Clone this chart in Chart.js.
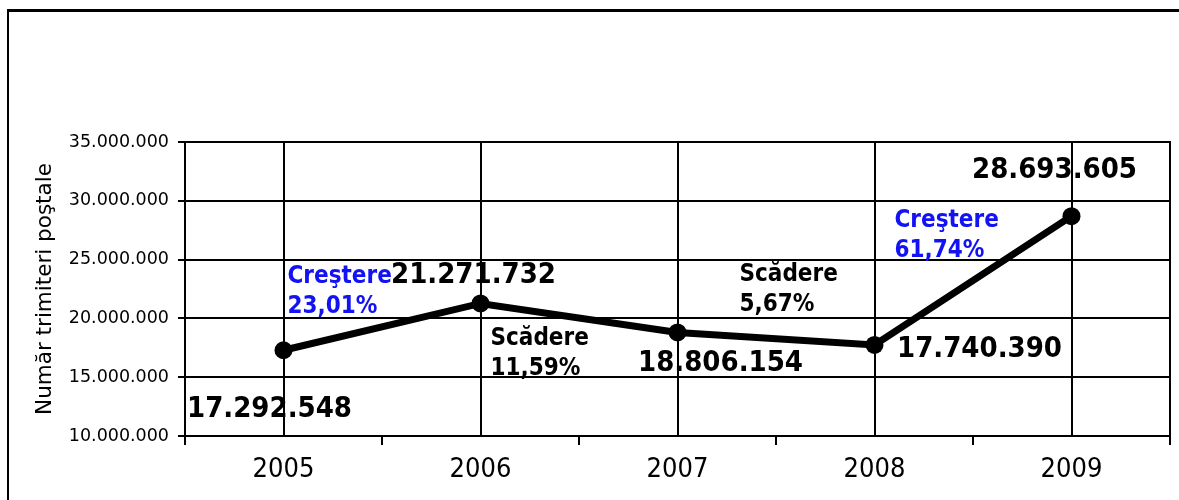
<!DOCTYPE html>
<html>
<head>
<meta charset="utf-8">
<script src="https://cdn.jsdelivr.net/npm/chart.js@4.4.1/dist/chart.umd.min.js"></script>
<style>
  html, body { margin: 0; padding: 0; background: #fff; overflow: hidden; }
  #wrap { position: relative; width: 1179px; height: 500px; }
  #frame { position: absolute; left: 7px; top: 9px; width: 1300px; height: 600px;
           border-top: 3px solid #000; border-left: 2px solid #000; }
  canvas { position: absolute; left: 0; top: 0; }
</style>
</head>
<body>
<div id="wrap">
  <div id="frame"></div>
  <canvas id="c" width="1179" height="500"></canvas>
</div>
<script>
// ---- data ----
const categories = ['2005', '2006', '2007', '2008', '2009'];
const values = [17292548, 21271732, 18806154, 17740390, 28693605];
const yMin = 10000000;
const yMax = 35000000;
const yStep = 5000000;
const yTitle = 'Număr trimiteri poştale';
const changeWords = ['Creştere', 'Scădere', 'Scădere', 'Creştere'];
const changePercents = ['23,01%', '11,59%', '5,67%', '61,74%'];
const changeIncrease = [true, false, false, true];

// ---- placement (pixels relative to data points) ----
const valueLabelOffsets = [[-14, 67], [-7, -20], [43, 39], [105, 12], [-17, -38]];
const changeAnchors = [0, 1, 2, 3];
const changeOffsets = [[4, -67], [10, 42], [62, -51], [20, -118]];

function fmt(v) {
  return String(Math.round(v)).replace(/\B(?=(\d{3})+(?!\d))/g, '.');
}

const labelPlugin = {
  id: 'labels',
  afterDatasetsDraw(chart) {
    const ctx = chart.ctx;
    const xs = chart.scales.x, ys = chart.scales.y;
    ctx.save();
    ctx.textBaseline = 'alphabetic';
    ctx.font = "bold 29px 'DejaVu Sans Condensed', 'DejaVu Sans'";
    ctx.fillStyle = '#000';
    ctx.textAlign = 'center';
    values.forEach((v, i) => {
      const px = xs.getPixelForValue(i), py = ys.getPixelForValue(v);
      ctx.fillText(fmt(v), px + valueLabelOffsets[i][0], py + valueLabelOffsets[i][1]);
    });
    ctx.textAlign = 'left';
    ctx.font = "bold 24px 'DejaVu Sans Condensed', 'DejaVu Sans'";
    changeWords.forEach((w, k) => {
      const i = changeAnchors[k];
      const px = xs.getPixelForValue(i) + changeOffsets[k][0];
      const py = ys.getPixelForValue(values[i]) + changeOffsets[k][1];
      ctx.fillStyle = changeIncrease[k] ? '#1212f5' : '#000';
      ctx.fillText(w, px, py);
      ctx.fillText(changePercents[k], px, py + 30);
    });
    ctx.restore();
  }
};

new Chart(document.getElementById('c'), {
  type: 'line',
  data: {
    labels: categories,
    datasets: [{
      data: values,
      borderColor: '#000',
      backgroundColor: '#000',
      borderWidth: 7,
      pointRadius: 9,
      pointHoverRadius: 9,
      pointBackgroundColor: '#000',
      pointBorderWidth: 0,
      tension: 0,
      xAxisID: 'x',
      yAxisID: 'y'
    }]
  },
  options: {
    responsive: false,
    animation: false,
    devicePixelRatio: 1,
    layout: { padding: { left: 29, right: 8, top: 142, bottom: 0 } },
    plugins: { legend: { display: false }, tooltip: { enabled: false } },
    scales: {
      x: {
        type: 'category',
        position: 'bottom',
        weight: 1,
        offset: true,
        grid: { offset: false, drawTicks: false, color: '#000', lineWidth: 2 },
        border: { display: false },
        ticks: { color: '#000', padding: 9,
                 font: { family: "'DejaVu Sans Condensed', 'DejaVu Sans'", size: 27 } },
        afterFit(s) { s.height = 55; }
      },
      x2: {
        type: 'category',
        labels: categories,
        position: 'bottom',
        weight: 0,
        offset: true,
        grid: { offset: true, drawOnChartArea: false, drawTicks: true, tickLength: 9, color: '#000', lineWidth: 2 },
        border: { display: true, color: '#000', width: 2 },
        ticks: { display: false },
        afterFit(s) { s.height = 9; }
      },
      y: {
        type: 'linear',
        position: 'left',
        min: yMin, max: yMax,
        grid: { color: '#000', lineWidth: 2, drawTicks: true, tickLength: 7 },
        border: { display: true, color: '#000', width: 2 },
        ticks: { stepSize: yStep, color: '#000', padding: 9,
                 font: { family: "'DejaVu Sans'", size: 17.5 },
                 callback: v => fmt(v) },
        title: { display: true, text: yTitle, color: '#000', padding: 4,
                 font: { family: "'DejaVu Sans'", size: 21.5 } },
        afterFit(s) { s.width = 156; }
      },
      y2: {
        type: 'linear',
        position: 'right',
        min: yMin, max: yMax,
        grid: { drawOnChartArea: false, drawTicks: false },
        border: { display: true, color: '#000', width: 2 },
        ticks: { display: false }
      }
    }
  },
  plugins: [labelPlugin]
});
</script>
</body>
</html>
